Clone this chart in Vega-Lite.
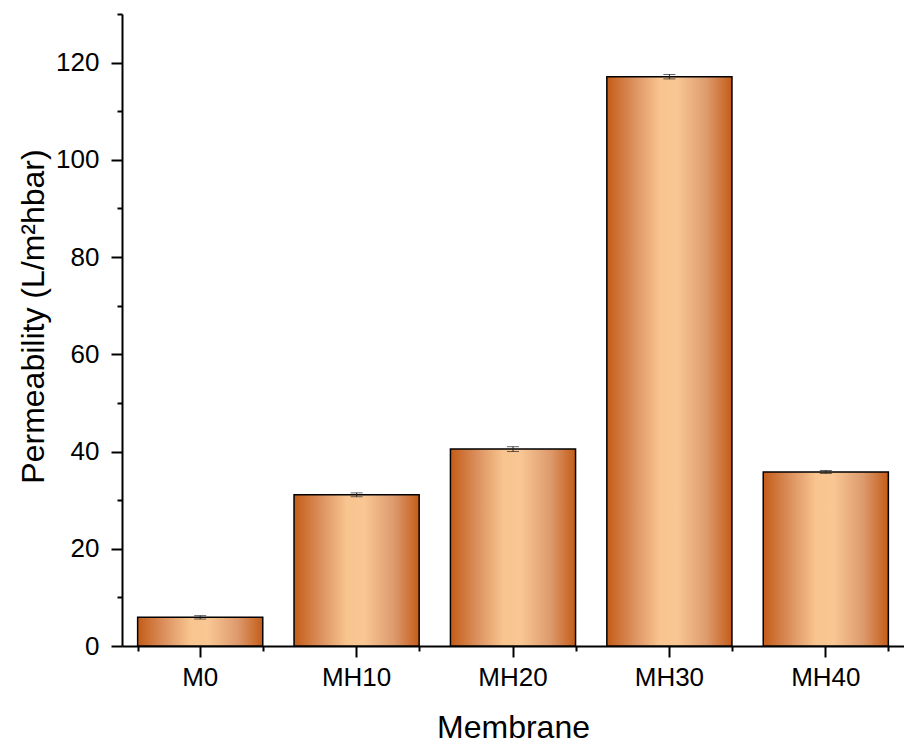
{
  "$schema": "https://vega.github.io/schema/vega-lite/v6.json",
  "width": 782,
  "height": 632,
  "autosize": "none",
  "padding": {"left": 122, "top": 14, "right": 0, "bottom": 99},
  "background": "white",
  "config": {
    "view": {"stroke": null},
    "font": "Liberation Sans",
    "axis": {
      "domainColor": "black",
      "domainWidth": 2,
      "tickColor": "black",
      "tickWidth": 2,
      "labelColor": "black",
      "titleColor": "black",
      "labelFont": "Liberation Sans",
      "titleFont": "Liberation Sans",
      "labelFontSize": 26,
      "titleFontSize": 32,
      "titleFontWeight": "normal",
      "grid": false
    }
  },
  "data": {
    "values": [
      {"membrane": "M0", "permeability": 5.9, "err": 0.35},
      {"membrane": "MH10", "permeability": 31.1, "err": 0.4},
      {"membrane": "MH20", "permeability": 40.5, "err": 0.5},
      {"membrane": "MH30", "permeability": 117.1, "err": 0.45},
      {"membrane": "MH40", "permeability": 35.8, "err": 0.3}
    ]
  },
  "layer": [
    {
      "mark": {
        "type": "bar",
        "stroke": "black",
        "strokeWidth": 1.5,
        "color": {
          "gradient": "linear",
          "x1": 0, "y1": 0, "x2": 1, "y2": 0,
          "stops": [
            {"offset": 0, "color": "#c45c18"},
            {"offset": 0.22, "color": "#dc9260"},
            {"offset": 0.42, "color": "#f8c48f"},
            {"offset": 0.56, "color": "#f9c794"},
            {"offset": 0.8, "color": "#dd9a6d"},
            {"offset": 1, "color": "#c45c18"}
          ]
        }
      },
      "encoding": {
        "x": {
          "field": "membrane",
          "type": "nominal",
          "sort": null,
          "scale": {"paddingInner": 0.2, "paddingOuter": 0.1},
          "axis": {
            "orient": "bottom",
            "title": "Membrane",
            "labelAngle": 0,
            "tickSize": 11,
            "labelPadding": 7,
            "titleY": 91,
            "titleBaseline": "alphabetic"
          }
        },
        "y": {
          "field": "permeability",
          "type": "quantitative",
          "title": "Permeability (L/m²hbar)",
          "scale": {"domain": [0, 130], "nice": false},
          "axis": {
            "values": [0, 10, 20, 30, 40, 50, 60, 70, 80, 90, 100, 110, 120, 130],
            "labelExpr": "datum.value % 20 === 0 ? datum.label : ''",
            "tickSize": {"condition": {"test": "datum.value % 20 !== 0", "value": 5}, "value": 11},
            "labelPadding": 12,
            "titleX": -79,
            "titleY": 302,
            "titleAngle": -90,
            "titleAlign": "center",
            "titleBaseline": "alphabetic"
          }
        }
      }
    },
    {
      "mark": {"type": "errorbar", "ticks": {"size": 12, "thickness": 1, "color": "#222222"}, "rule": {"strokeWidth": 1, "color": "#222222"}},
      "encoding": {
        "x": {
          "field": "membrane",
          "type": "nominal",
          "sort": null,
          "axis": {
            "orient": "bottom",
            "tickBand": "extent",
            "tickSize": 5,
            "labels": false,
            "domain": false,
            "title": null
          }
        },
        "y": {"field": "permeability", "type": "quantitative", "title": "Permeability (L/m²hbar)"},
        "yError": {"field": "err"}
      }
    }
  ],
  "resolve": {"axis": {"x": "independent"}}
}
